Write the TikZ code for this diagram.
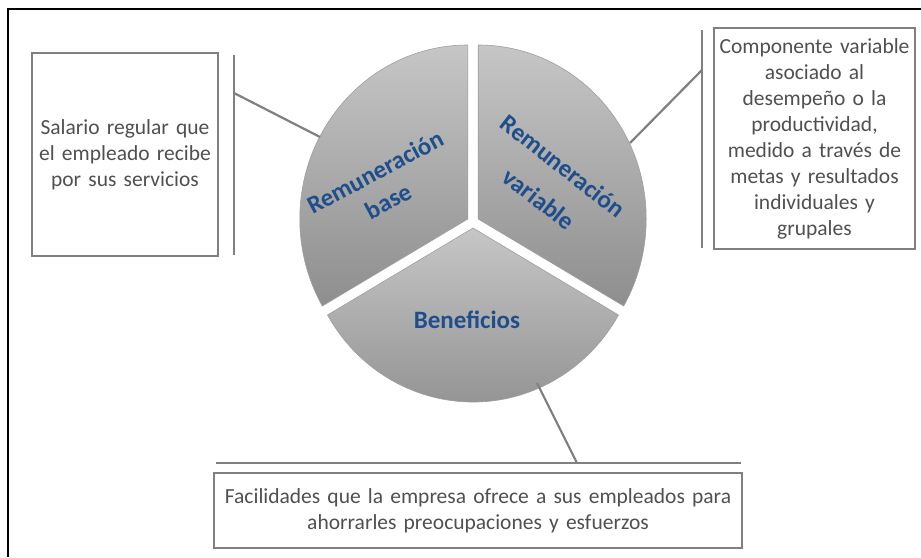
\documentclass[tikz,border=0pt]{standalone}
\usepackage{fontspec}
\setmainfont{Carlito}[WordSpace=0.75]
\definecolor{boxgray}{RGB}{128,128,128}
\definecolor{txtgray}{RGB}{80,80,80}
\definecolor{lblblue}{RGB}{31,78,140}
\definecolor{pietop}{RGB}{198,198,198}
\definecolor{piebot}{RGB}{142,142,142}
\begin{document}
\begin{tikzpicture}[x=1pt,y=1pt,
  descbox/.style={draw=boxgray,line width=2.5pt,fill=white,align=center,inner sep=2pt,
     text=txtgray,font=\fontsize{21.5}{26}\selectfont},
  bar/.style={draw=boxgray,line width=2.5pt},
  link/.style={draw=boxgray,line width=2.2pt},
  sector/.style={top color=pietop,bottom color=piebot,draw=gray!75,line width=0.6pt},
  lbl/.style={text=lblblue,font=\bfseries\fontsize{25}{30}\selectfont,inner sep=0pt}]
\useasboundingbox (0,0) rectangle (921,-557);
\fill[white] (0,0) rectangle (921,-557);
% frame
\draw[line width=2.5pt,black] (8,-557) -- (8,-9) -- (921,-9);
% pie sectors
\path[sector] (467.8,-219) -- ++(90:168 and 174) arc[start angle=90,end angle=210,x radius=168,y radius=174] -- cycle;
\path[sector] (478.2,-219) -- ++(90:168 and 174) arc[start angle=90,end angle=-30,x radius=168,y radius=174] -- cycle;
\path[sector] (473,-228) -- ++(210:168 and 174) arc[start angle=210,end angle=330,x radius=168,y radius=174] -- cycle;
\node[lbl,rotate=28] (rb1) at (375,-172) {Remuneración};
\node[lbl,rotate=28] (rb2) at (388,-201) {base};
\node[lbl,rotate=-38] (rv1) at (563,-166) {Remuneración};
\node[lbl,rotate=-38] (rv2) at (539,-199) {variable};
\node[lbl] (bn) at (467,-320) {Beneficios};
% anchor points on the pie
\coordinate (pL) at (320,-137);
\coordinate (pR) at (630,-143);
\coordinate (pB) at (537,-383);
% description boxes
\node[descbox,minimum width=186pt,minimum height=203pt,text width=180pt] (bL) at (125,-154.5)
  {Salario regular que\\el empleado recibe\\por sus servicios\\[2em]};
\node[descbox,minimum width=201pt,minimum height=221pt,text width=197pt] (bR) at (814.5,-138.5)
  {Componente variable\\asociado al\\desempeño o la\\productividad,\\medido a través de\\metas y resultados\\individuales y\\grupales};
\node[descbox,minimum width=528pt,minimum height=75pt,text width=520pt] (bB) at (478,-510.5)
  {Facilidades que la empresa ofrece a sus empleados para\\ahorrarles preocupaciones y esfuerzos};
% bars
\coordinate (lT) at (234,-55); \coordinate (lE) at (234,-255); \coordinate (lJ) at (234,-93);
\coordinate (rT) at (702,-30); \coordinate (rE) at (702,-248); \coordinate (rJ) at (702,-70);
\coordinate (hT) at (216,-463); \coordinate (hE) at (741,-463); \coordinate (hJ) at (577,-463);
\draw[bar] (lT) -- (lE);
\draw[bar] (rT) -- (rE);
\draw[bar] (hT) -- (hE);
\draw[link] (lJ) -- (pL);
\draw[link] (rJ) -- (pR);
\draw[link] (hJ) -- (pB);
\end{tikzpicture}
\end{document}
